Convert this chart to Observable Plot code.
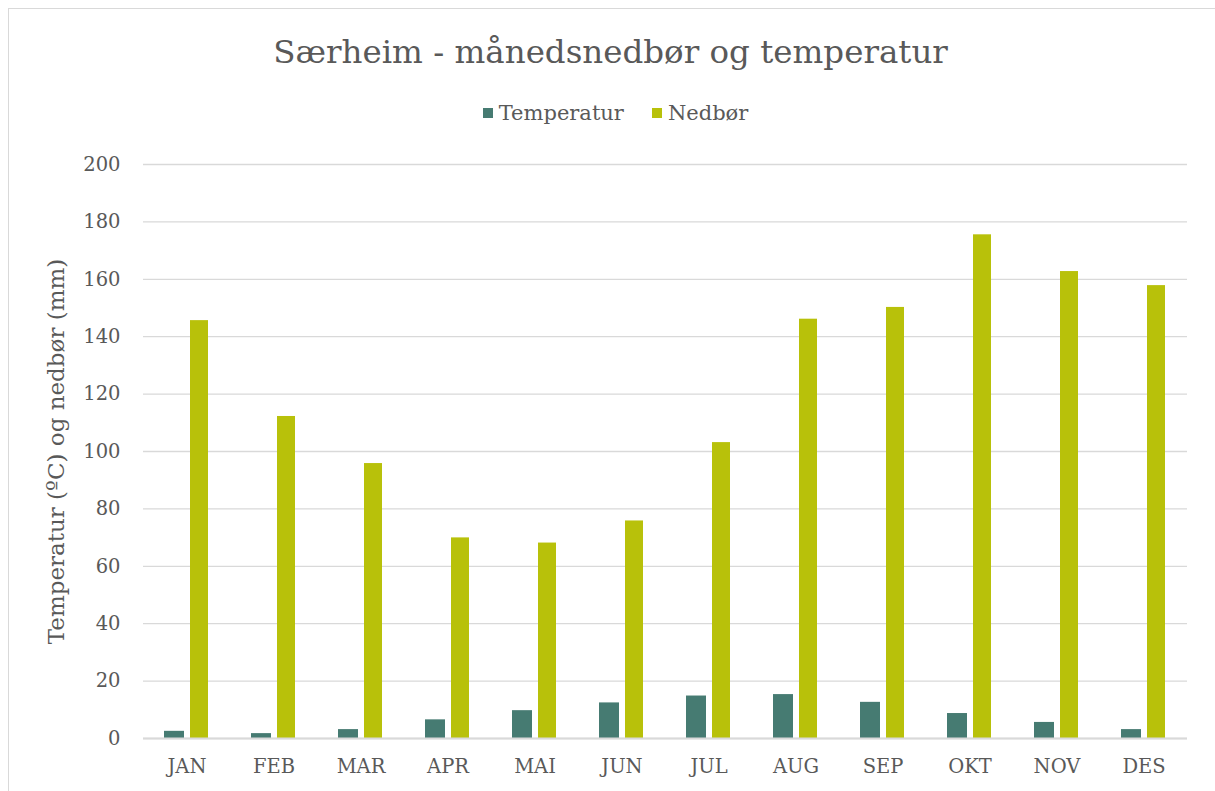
<!DOCTYPE html>
<html>
<head>
<meta charset="utf-8">
<script src="https://cdn.jsdelivr.net/npm/d3@7"></script>
<script src="https://cdn.jsdelivr.net/npm/@observablehq/plot@0.6"></script>
<style>
  html, body { margin: 0; padding: 0; background: #fff; overflow: hidden; }
  body { width: 1215px; height: 791px; position: relative; font-family: "DejaVu Serif", Georgia, serif; color: #595959; }
  #frame { position: absolute; left: 8px; top: 8px; width: 1230px; height: 820px; border: 1px solid #d9d9d9; box-sizing: border-box; }
  #title { position: absolute; left: 8px; width: 1205px; top: 32px; text-align: center; font-size: 32.5px; line-height: 40px; white-space: nowrap; }
  #legend { position: absolute; left: 8px; width: 1215px; top: 100px; display: flex; justify-content: center; align-items: center; font-size: 21px; line-height: 26px; }
  .item { display: flex; align-items: center; margin: 0 14px; }
  .sw { width: 10px; height: 10px; margin-right: 6px; }
  #chart { position: absolute; left: 0; top: 140px; }
</style>
</head>
<body>
<div id="frame"></div>
<div id="title">Særheim - månedsnedbør og temperatur</div>
<div id="legend"></div>
<div id="chart"></div>
<script>
const months = ["JAN", "FEB", "MAR", "APR", "MAI", "JUN", "JUL", "AUG", "SEP", "OKT", "NOV", "DES"];
const temperatur = [2.5, 1.7, 3.1, 6.5, 9.7, 12.4, 14.8, 15.3, 12.6, 8.7, 5.6, 3.1];
const nedbor = [145.6, 112.2, 95.8, 69.9, 68.1, 75.8, 103.1, 146.1, 150.2, 175.5, 162.7, 157.8];
const yTicks = [0, 20, 40, 60, 80, 100, 120, 140, 160, 180, 200];
const seriesNames = ["Temperatur", "Nedbør"];
const seriesColors = ["#467b72", "#b8c10a"];
const yTitle = "Temperatur (ºC) og nedbør (mm)";

const data = months.map((m, i) => ({month: m, temp: temperatur[i], ned: nedbor[i]}));

// legend
const legend = document.getElementById("legend");
seriesNames.forEach((name, i) => {
  const it = document.createElement("div");
  it.className = "item";
  const sw = document.createElement("div");
  sw.className = "sw";
  sw.style.background = seriesColors[i];
  const tx = document.createElement("span");
  tx.textContent = name;
  it.appendChild(sw); it.appendChild(tx);
  legend.appendChild(it);
});

const chart = Plot.plot({
  width: 1215,
  height: 650,
  marginLeft: 143,
  marginRight: 28,
  marginTop: 24,
  marginBottom: 52,
  style: {fontFamily: "DejaVu Serif, Georgia, serif", fontSize: "19px", color: "#595959", background: "transparent"},
  x: {domain: months, padding: 0, label: null},
  y: {domain: [0, 200], label: null},
  marks: [
    Plot.ruleY(yTicks, {stroke: "#d9d9d9", strokeWidth: 1.3}),
    Plot.barY(data, {x: "month", y: "temp", fill: seriesColors[0], insetLeft: 21, insetRight: 46}),
    Plot.barY(data, {x: "month", y: "ned", fill: seriesColors[1], insetLeft: 47, insetRight: 22}),
    Plot.ruleY([0], {stroke: "#d9d9d9", strokeWidth: 2}),
    Plot.axisX({tickSize: 0, tickPadding: 21, label: null, fill: "#595959", fontSize: 19.5}),
    Plot.axisY({ticks: yTicks, tickSize: 0, tickPadding: 23, label: null, fill: "#595959", fontSize: 19.5}),
    Plot.axisY({ticks: [], label: yTitle, labelAnchor: "center", labelArrow: "none", labelOffset: 96, fontSize: 23, fill: "#595959"})
  ]
});
document.getElementById("chart").appendChild(chart);
</script>
</body>
</html>
